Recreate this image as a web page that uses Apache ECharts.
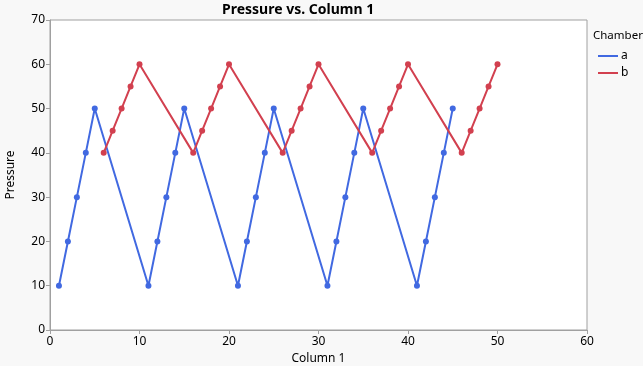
<!DOCTYPE html>
<html>
<head>
<meta charset="utf-8">
<script src="https://cdn.jsdelivr.net/npm/echarts@6/dist/echarts.min.js"></script>
<style>
html,body{margin:0;padding:0;background:#f8f8f8;}
#c{width:643px;height:366px;}
</style>
</head>
<body>
<div id="c"></div>
<script>
const xA = [1,2,3,4,5,11,12,13,14,15,21,22,23,24,25,31,32,33,34,35,41,42,43,44,45];
const yA = [10,20,30,40,50,10,20,30,40,50,10,20,30,40,50,10,20,30,40,50,10,20,30,40,50];
const xB = [6,7,8,9,10,16,17,18,19,20,26,27,28,29,30,36,37,38,39,40,46,47,48,49,50];
const yB = [40,45,50,55,60,40,45,50,55,60,40,45,50,55,60,40,45,50,55,60,40,45,50,55,60];
const seriesNames = ['a','b'];
const colors = ['#4169E1','#D2404F'];
const font = '"Noto Sans", "Open Sans", sans-serif';
const chart = echarts.init(document.getElementById('c'));
const axisGray = '#a0a0a0';
chart.setOption({
  backgroundColor: '#f8f8f8',
  animation: false,
  title: [
    {text: 'Pressure vs. Column 1', left: 217, top: -2,
     textStyle: {fontSize: 14, fontWeight: 'bold', color: '#000', fontFamily: font}},
    {text: 'Chamber', left: 588, top: 25, padding: [5,0,5,5],
     textStyle: {fontSize: 11.5, fontWeight: 'normal', color: '#000', fontFamily: font}}
  ],
  legend: {
    orient: 'vertical', left: 593, top: 45,
    itemWidth: 20, itemHeight: 2, itemGap: 5,
    icon: 'rect',
    textStyle: {fontSize: 12, color: '#000', fontFamily: font, padding: [0,0,0,-2]},
    data: seriesNames
  },
  grid: {left: 50, right: 56, top: 20, bottom: 36, show: true, outerBoundsMode: 'none', containLabel: false,
         backgroundColor: '#fff', borderColor: axisGray, borderWidth: 1},
  xAxis: {
    type: 'value', min: 0, max: 60, interval: 10,
    name: 'Column 1', nameLocation: 'middle', nameGap: 22,
    nameTextStyle: {fontSize: 12, color: '#000', fontFamily: font},
    axisLine: {show: true, lineStyle: {color: axisGray}},
    axisTick: {show: true, length: 4, lineStyle: {color: axisGray}},
    axisLabel: {fontSize: 12, color: '#000', fontFamily: font, margin: 6},
    splitLine: {show: false}
  },
  yAxis: {
    type: 'value', min: 0, max: 70, interval: 10,
    name: 'Pressure', nameLocation: 'middle', nameGap: 33,
    nameTextStyle: {fontSize: 12, color: '#000', fontFamily: font},
    axisLine: {show: true, lineStyle: {color: axisGray}},
    axisTick: {show: true, length: 4, lineStyle: {color: axisGray}},
    axisLabel: {fontSize: 12, color: '#000', fontFamily: font, margin: 5},
    splitLine: {show: false}
  },
  series: [
    {name: seriesNames[0], type: 'line', data: xA.map((x,i)=>[x,yA[i]]),
     symbol: 'circle', symbolSize: 6, color: colors[0],
     lineStyle: {width: 2, color: colors[0]}, itemStyle: {color: colors[0]}},
    {name: seriesNames[1], type: 'line', data: xB.map((x,i)=>[x,yB[i]]),
     symbol: 'circle', symbolSize: 6, color: colors[1],
     lineStyle: {width: 2, color: colors[1]}, itemStyle: {color: colors[1]}}
  ]
});
</script>
</body>
</html>
